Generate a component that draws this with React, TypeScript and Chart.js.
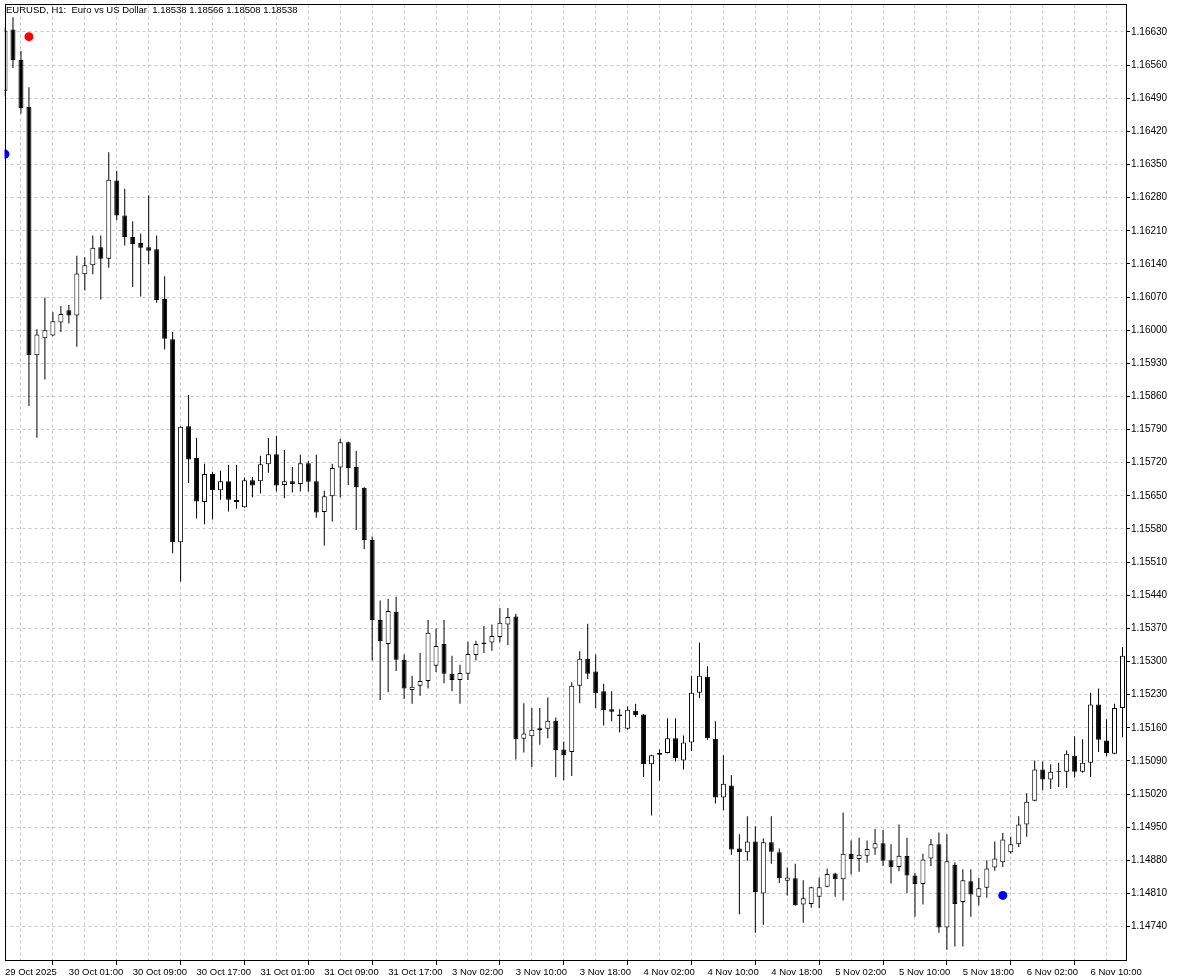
import React, { useEffect, useRef } from 'react';
import { Chart, registerables } from 'chart.js';

Chart.register(...registerables);

const HEADER = 'EURUSD, H1:  Euro vs US Dollar  1.18538 1.18566 1.18508 1.18538';

// one label every 8 hourly bars, starting at bar 0
const X_LABELS = [
  '29 Oct 2025', '30 Oct 01:00', '30 Oct 09:00', '30 Oct 17:00', '31 Oct 01:00', '31 Oct 09:00',
  '31 Oct 17:00', '3 Nov 02:00', '3 Nov 10:00', '3 Nov 18:00', '4 Nov 02:00', '4 Nov 10:00',
  '4 Nov 18:00', '5 Nov 02:00', '5 Nov 10:00', '5 Nov 18:00', '6 Nov 02:00', '6 Nov 10:00',
];

const Y_TICKS = [
  1.14740, 1.14810, 1.14880, 1.14950, 1.15020, 1.15090, 1.15160, 1.15230, 1.15300, 1.15370,
  1.15440, 1.15510, 1.15580, 1.15650, 1.15720, 1.15790, 1.15860, 1.15930, 1.16000, 1.16070,
  1.16140, 1.16210, 1.16280, 1.16350, 1.16420, 1.16490, 1.16560, 1.16630,
];

const OPEN = [
  1.16506, 1.16635, 1.16571, 1.16472, 1.15947, 1.15983, 1.15989, 1.16016, 1.16042, 1.16031,
  1.16118, 1.16137, 1.16175, 1.16151, 1.16316, 1.16242, 1.16197, 1.16184, 1.16175, 1.16171,
  1.16066, 1.15981, 1.15552, 1.15797, 1.15730, 1.15637, 1.15696, 1.15662, 1.15681, 1.15637,
  1.15626, 1.15683, 1.15681, 1.15717, 1.15738, 1.15673, 1.15681, 1.15675, 1.15719, 1.15681,
  1.15616, 1.15649, 1.15710, 1.15763, 1.15711, 1.15667, 1.15557, 1.15388, 1.15337, 1.15405,
  1.15304, 1.15240, 1.15249, 1.15259, 1.15291, 1.15337, 1.15274, 1.15261, 1.15274, 1.15314,
  1.15340, 1.15340, 1.15352, 1.15378, 1.15395, 1.15137, 1.15142, 1.15159, 1.15158, 1.15175,
  1.15114, 1.15109, 1.15249, 1.15306, 1.15279, 1.15237, 1.15199, 1.15188, 1.15158, 1.15196,
  1.15188, 1.15083, 1.15103, 1.15107, 1.15138, 1.15091, 1.15129, 1.15234, 1.15268, 1.15137,
  1.15013, 1.15038, 1.14905, 1.14897, 1.14920, 1.14810, 1.14918, 1.14897, 1.14837, 1.14842,
  1.14787, 1.14788, 1.14803, 1.14824, 1.14852, 1.14840, 1.14894, 1.14883, 1.14890, 1.14905,
  1.14916, 1.14880, 1.14866, 1.14889, 1.14848, 1.14830, 1.14884, 1.14914, 1.14738, 1.14870,
  1.14792, 1.14836, 1.14803, 1.14822, 1.14865, 1.14876, 1.14897, 1.14914, 1.14956, 1.15006,
  1.15072, 1.15051, 1.15067, 1.15067, 1.15101, 1.15067, 1.15086, 1.15209, 1.15133, 1.15105,
  1.15202,
];

const HIGH = [
  1.16640, 1.16661, 1.16590, 1.16513, 1.16002, 1.16069, 1.16038, 1.16051, 1.16053, 1.16157,
  1.16154, 1.16200, 1.16200, 1.16376, 1.16337, 1.16299, 1.16230, 1.16204, 1.16285, 1.16200,
  1.16114, 1.15996, 1.15797, 1.15863, 1.15773, 1.15718, 1.15701, 1.15703, 1.15715, 1.15715,
  1.15689, 1.15690, 1.15735, 1.15772, 1.15777, 1.15747, 1.15711, 1.15737, 1.15724, 1.15737,
  1.15661, 1.15718, 1.15770, 1.15765, 1.15745, 1.15668, 1.15564, 1.15429, 1.15432, 1.15437,
  1.15315, 1.15270, 1.15318, 1.15388, 1.15370, 1.15388, 1.15312, 1.15293, 1.15342, 1.15344,
  1.15375, 1.15378, 1.15413, 1.15413, 1.15401, 1.15212, 1.15202, 1.15202, 1.15224, 1.15182,
  1.15131, 1.15256, 1.15322, 1.15380, 1.15315, 1.15253, 1.15237, 1.15199, 1.15205, 1.15211,
  1.15189, 1.15103, 1.15114, 1.15180, 1.15180, 1.15144, 1.15270, 1.15340, 1.15290, 1.15174,
  1.15102, 1.15060, 1.14935, 1.14973, 1.14952, 1.14926, 1.14973, 1.14905, 1.14865, 1.14873,
  1.14838, 1.14824, 1.14844, 1.14863, 1.14854, 1.14981, 1.14922, 1.14928, 1.14922, 1.14946,
  1.14944, 1.14914, 1.14956, 1.14928, 1.14854, 1.14894, 1.14925, 1.14939, 1.14935, 1.14876,
  1.14861, 1.14861, 1.14843, 1.14880, 1.14920, 1.14938, 1.14930, 1.14973, 1.15022, 1.15091,
  1.15089, 1.15083, 1.15086, 1.15112, 1.15142, 1.15136, 1.15234, 1.15243, 1.15178, 1.15211,
  1.15330,
];

const LOW = [
  1.16494, 1.16554, 1.16457, 1.15840, 1.15773, 1.15896, 1.15987, 1.15996, 1.16014, 1.15965,
  1.16084, 1.16118, 1.16065, 1.16132, 1.16232, 1.16179, 1.16091, 1.16071, 1.16140, 1.16058,
  1.15959, 1.15529, 1.15469, 1.15677, 1.15602, 1.15590, 1.15600, 1.15642, 1.15617, 1.15623,
  1.15625, 1.15647, 1.15655, 1.15699, 1.15659, 1.15645, 1.15657, 1.15659, 1.15659, 1.15604,
  1.15545, 1.15596, 1.15647, 1.15673, 1.15578, 1.15538, 1.15302, 1.15219, 1.15235, 1.15280,
  1.15221, 1.15211, 1.15228, 1.15243, 1.15278, 1.15254, 1.15237, 1.15211, 1.15261, 1.15302,
  1.15318, 1.15323, 1.15341, 1.15335, 1.15093, 1.15108, 1.15077, 1.15124, 1.15138, 1.15056,
  1.15049, 1.15058, 1.15212, 1.15263, 1.15202, 1.15165, 1.15174, 1.15150, 1.15156, 1.15183,
  1.15056, 1.14975, 1.15048, 1.15106, 1.15089, 1.15072, 1.15111, 1.15223, 1.15135, 1.15000,
  1.14986, 1.14892, 1.14766, 1.14879, 1.14727, 1.14744, 1.14873, 1.14832, 1.14806, 1.14784,
  1.14748, 1.14780, 1.14779, 1.14823, 1.14803, 1.14795, 1.14850, 1.14856, 1.14875, 1.14892,
  1.14868, 1.14831, 1.14857, 1.14811, 1.14761, 1.14787, 1.14868, 1.14727, 1.14691, 1.14698,
  1.14698, 1.14761, 1.14785, 1.14801, 1.14858, 1.14866, 1.14894, 1.14908, 1.14930, 1.15005,
  1.15028, 1.15031, 1.15035, 1.15033, 1.15055, 1.15065, 1.15056, 1.15109, 1.15100, 1.15104,
  1.15140,
];

const CLOSE = [
  1.16633, 1.16571, 1.16469, 1.15947, 1.15991, 1.16000, 1.16019, 1.16034, 1.16031, 1.16120,
  1.16137, 1.16174, 1.16151, 1.16318, 1.16242, 1.16197, 1.16182, 1.16174, 1.16168, 1.16064,
  1.15982, 1.15552, 1.15796, 1.15727, 1.15638, 1.15696, 1.15662, 1.15681, 1.15642, 1.15641,
  1.15683, 1.15672, 1.15717, 1.15738, 1.15672, 1.15681, 1.15675, 1.15719, 1.15680, 1.15615,
  1.15649, 1.15709, 1.15763, 1.15709, 1.15668, 1.15557, 1.15388, 1.15343, 1.15407, 1.15304,
  1.15243, 1.15247, 1.15259, 1.15361, 1.15333, 1.15274, 1.15261, 1.15276, 1.15316, 1.15337,
  1.15337, 1.15354, 1.15382, 1.15394, 1.15136, 1.15148, 1.15156, 1.15155, 1.15175, 1.15113,
  1.15102, 1.15249, 1.15306, 1.15274, 1.15233, 1.15197, 1.15194, 1.15185, 1.15198, 1.15187,
  1.15083, 1.15102, 1.15107, 1.15138, 1.15096, 1.15129, 1.15234, 1.15270, 1.15138, 1.15013,
  1.15042, 1.14903, 1.14897, 1.14920, 1.14813, 1.14918, 1.14898, 1.14842, 1.14844, 1.14785,
  1.14800, 1.14823, 1.14823, 1.14851, 1.14840, 1.14894, 1.14883, 1.14892, 1.14904, 1.14916,
  1.14879, 1.14866, 1.14890, 1.14848, 1.14830, 1.14882, 1.14914, 1.14738, 1.14878, 1.14788,
  1.14838, 1.14808, 1.14821, 1.14863, 1.14884, 1.14924, 1.14914, 1.14956, 1.15004, 1.15072,
  1.15051, 1.15067, 1.15068, 1.15105, 1.15067, 1.15086, 1.15209, 1.15135, 1.15107, 1.15202,
  1.15312,
];

// indicator markers (bar index, price)
const UP_MARK_BARS = [0, 125];
const UP_MARK_PRICES = [1.16372, 1.14806];
const DOWN_MARK_BARS = [3];
const DOWN_MARK_PRICES = [1.16620];

const FONT = 'Liberation Sans';

export default function App() {
  const canvasRef = useRef<HTMLCanvasElement | null>(null);

  useEffect(() => {
    const canvas = canvasRef.current;
    if (!canvas) return;

    const idx = OPEN.map((_, i) => i);
    const wickData = idx.map((i) => ({ x: i, y: [LOW[i], HIGH[i]] }));
    const bodyData = idx.map((i) => ({ x: i, y: [OPEN[i], CLOSE[i]] }));
    const bodyFill = idx.map((i) => (CLOSE[i] >= OPEN[i] ? '#ffffff' : '#000000'));
    const gridBars: number[] = [];
    for (let b = 0; b < OPEN.length; b += 4) gridBars.push(b);

    const framePlugin = {
      id: 'mtFrame',
      afterDraw(chart: any) {
        const { ctx, chartArea } = chart;
        ctx.save();
        ctx.strokeStyle = '#000000';
        ctx.lineWidth = 1;
        ctx.setLineDash([]);
        ctx.strokeRect(
          Math.round(chartArea.left) + 0.5,
          Math.round(chartArea.top) - 0.5,
          Math.round(chartArea.right) - Math.round(chartArea.left) - 1,
          Math.round(chartArea.bottom) - Math.round(chartArea.top)
        );
        ctx.fillStyle = '#000000';
        ctx.font = `9.5px "${FONT}"`;
        ctx.textBaseline = 'alphabetic';
        ctx.textAlign = 'left';
        ctx.fillText(HEADER, 6, 13);
        ctx.restore();
      },
    };

    const chart = new Chart(canvas, {
      type: 'bar',
      data: {
        datasets: [
          {
            type: 'line',
            label: 'down',
            data: DOWN_MARK_BARS.map((b, k) => ({ x: b, y: DOWN_MARK_PRICES[k] })),
            showLine: false,
            pointRadius: 4.5,
            pointBackgroundColor: '#ff0000',
            pointBorderWidth: 0,
            order: 0,
          } as any,
          {
            type: 'line',
            label: 'up',
            data: UP_MARK_BARS.map((b, k) => ({ x: b, y: UP_MARK_PRICES[k] })),
            showLine: false,
            pointRadius: 4.5,
            pointBackgroundColor: '#0000ff',
            pointBorderWidth: 0,
            order: 0,
          } as any,
          {
            label: 'body',
            data: bodyData as any,
            backgroundColor: bodyFill,
            borderColor: '#000000',
            borderWidth: 1,
            borderSkipped: false,
            barThickness: 5,
            grouped: false,
            minBarLength: 1,
            inflateAmount: 0,
            order: 1,
          } as any,
          {
            label: 'wick',
            data: wickData as any,
            backgroundColor: '#000000',
            borderWidth: 0,
            barThickness: 1,
            grouped: false,
            inflateAmount: 0,
            order: 2,
          } as any,
        ],
      },
      options: {
        responsive: false,
        animation: false,
        events: [],
        layout: { padding: { left: 2, top: 3, right: 0, bottom: 0 } },
        plugins: {
          legend: { display: false },
          tooltip: { enabled: false },
        },
        scales: {
          x: {
            type: 'linear',
            min: -0.0625,
            max: 140.5625,
            offset: false,
            afterBuildTicks: (s: any) => {
              s.ticks = gridBars.map((v) => ({ value: v }));
            },
            afterFit: (s: any) => {
              s.height = 19;
              s.paddingLeft = 0;
              s.paddingRight = 0;
            },
            grid: {
              color: '#c8c8c8',
              lineWidth: 1,
              drawTicks: true,
              tickLength: 4,
              tickWidth: 1,
              tickBorderDash: [],
              tickColor: (c: any) =>
                c.tick && c.tick.value % 8 === 0 ? '#000000' : 'rgba(0,0,0,0)',
            },
            border: { display: false, dash: [3, 3] },
            ticks: {
              autoSkip: false,
              maxRotation: 0,
              minRotation: 0,
              align: 'start',
              padding: 2,
              color: '#000000',
              font: { family: FONT, size: 9.5 },
              callback: (v: any) => {
                const n = Number(v);
                return n % 8 === 0 ? X_LABELS[n / 8] ?? '' : '';
              },
            },
          } as any,
          y: {
            type: 'linear',
            position: 'right',
            min: 1.146674,
            max: 1.16688,
            afterBuildTicks: (s: any) => {
              s.ticks = Y_TICKS.map((v) => ({ value: v }));
            },
            afterFit: (s: any) => {
              s.width = 53;
              s.paddingTop = 0;
              s.paddingBottom = 0;
            },
            grid: {
              color: '#c8c8c8',
              lineWidth: 1,
              drawTicks: true,
              tickLength: 3,
              tickWidth: 1,
              tickBorderDash: [],
              tickColor: '#000000',
            },
            border: { display: false, dash: [3, 3] },
            ticks: {
              padding: 1,
              color: '#000000',
              font: { family: FONT, size: 10 },
              callback: (v: any) => Number(v).toFixed(5),
            },
          } as any,
        },
      },
      plugins: [framePlugin],
    });

    return () => {
      chart.destroy();
    };
  }, []);

  return (
    <div style={{ position: 'fixed', left: 0, top: 0, width: 1180, height: 980, background: '#ffffff' }}>
      <canvas ref={canvasRef} width={1180} height={980} style={{ display: 'block' }} />
    </div>
  );
}
